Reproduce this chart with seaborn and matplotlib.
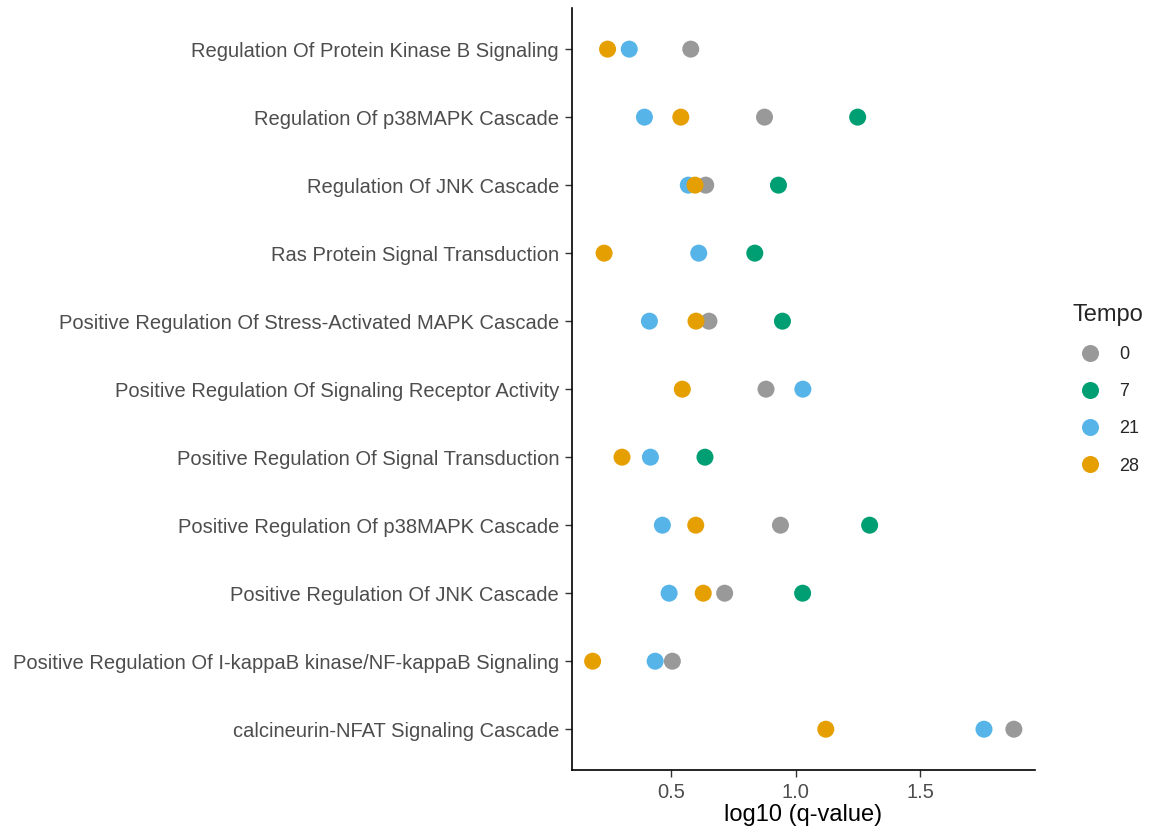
import numpy as np
import pandas as pd
import matplotlib
matplotlib.use('Agg')
import matplotlib.pyplot as plt
import seaborn as sns

# GO terms, top to bottom
terms = [
    'Regulation Of Protein Kinase B Signaling',
    'Regulation Of p38MAPK Cascade',
    'Regulation Of JNK Cascade',
    'Ras Protein Signal Transduction',
    'Positive Regulation Of Stress-Activated MAPK Cascade',
    'Positive Regulation Of Signaling Receptor Activity',
    'Positive Regulation Of Signal Transduction',
    'Positive Regulation Of p38MAPK Cascade',
    'Positive Regulation Of JNK Cascade',
    'Positive Regulation Of I-kappaB kinase/NF-kappaB Signaling',
    'calcineurin-NFAT Signaling Cascade',
]

# log10 (q-value) per time point (nan = term not enriched)
t0 = [0.579, 0.875, 0.639, np.nan, 0.652, 0.881, np.nan, 0.939, 0.715, 0.505, 1.876]
t7 = [np.nan, 1.249, 0.931, 0.836, 0.947, np.nan, 0.636, 1.297, 1.028, np.nan, np.nan]
t21 = [0.332, 0.393, 0.569, 0.611, 0.413, 1.029, 0.417, 0.465, 0.492, 0.436, 1.756]
t28 = [0.245, 0.539, 0.596, 0.231, 0.600, 0.545, 0.303, 0.599, 0.629, 0.185, 1.121]

tempos = ['0', '7', '21', '28']
colors = ['#999999', '#009E73', '#56B4E9', '#E69F00']

# long format
frames = []
for tp, vals in zip(tempos, [t0, t7, t21, t28]):
    frames.append(pd.DataFrame({'term': terms, 'q': vals, 'Tempo': tp}))
df = pd.concat(frames).dropna()
df['term'] = pd.Categorical(df['term'], categories=terms, ordered=True)

sns.set_style('white')
plt.rcParams['font.family'] = ['Liberation Sans', 'DejaVu Sans']

fig = plt.figure(figsize=(11.57, 8.32), dpi=100)
ax = fig.add_axes([0.494, 0.0745, 0.4005, 0.9155])

sns.scatterplot(data=df, x='q', y='term', hue='Tempo', hue_order=tempos,
                palette=dict(zip(tempos, colors)), s=150, linewidth=0,
                ax=ax, legend=True)

# ggplot-like expansion
lo, hi = df['q'].min(), df['q'].max()
pad = 0.05 * (hi - lo)
ax.set_xlim(lo - pad, hi + pad)
ax.set_ylim(len(terms) - 0.4, -0.6)
ax.set_xticks([0.5, 1.0, 1.5])
ax.set_xticklabels(['0.5', '1.0', '1.5'])

sns.despine(ax=ax)
for side in ['left', 'bottom']:
    ax.spines[side].set_linewidth(1.2)
    ax.spines[side].set_color('black')
ax.tick_params(axis='both', length=5, width=1, color='#333333',
               labelsize=14.5, labelcolor='#4D4D4D', pad=4, direction='out')
ax.xaxis.set_ticks_position('bottom')
ax.yaxis.set_ticks_position('left')
ax.set_xlabel('log10 (q-value)', fontsize=17, color='black', labelpad=2)
ax.set_ylabel('')

leg = ax.legend(title='Tempo', loc='center left', bbox_to_anchor=(1.045, 0.5),
                frameon=False, fontsize=13, title_fontsize=17,
                handletextpad=0.6, labelspacing=1.12, markerscale=1.0)
leg._legend_box.align = 'left'

fig.savefig('out.png', dpi=100)
